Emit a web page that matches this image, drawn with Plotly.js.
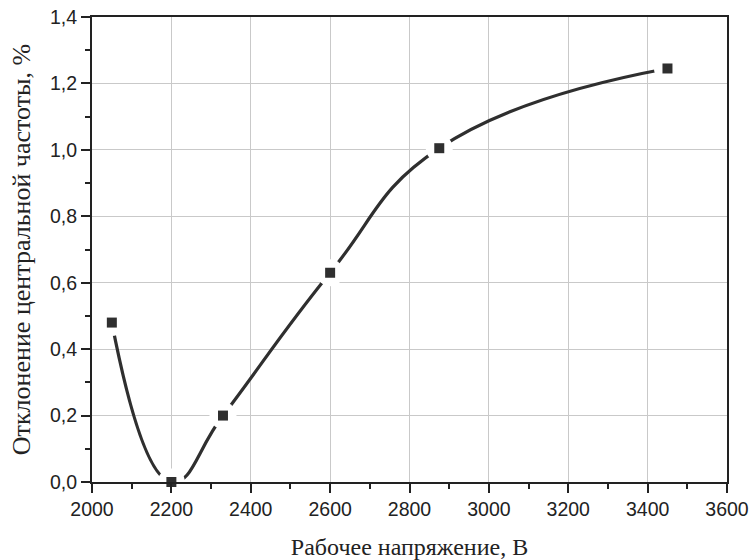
<!DOCTYPE html>
<html>
<head>
<meta charset="utf-8">
<script src="https://cdn.plot.ly/plotly-3.0.1.min.js"></script>
<style>html,body{margin:0;padding:0;background:#fff;}#chart{width:751px;height:560px;}</style>
</head>
<body>
<div id="chart"></div>
<script>
const voltage = [2050, 2200, 2330, 2600, 2875, 3450];
const deviation = [0.48, 0.0, 0.20, 0.63, 1.005, 1.245];
const xTickVals = [2000, 2200, 2400, 2600, 2800, 3000, 3200, 3400, 3600];
const yTickVals = [0.0, 0.2, 0.4, 0.6, 0.8, 1.0, 1.2, 1.4];
const yTickText = ["0,0", "0,2", "0,4", "0,6", "0,8", "1,0", "1,2", "1,4"];
const xTitle = "Рабочее напряжение, В";
const yTitle = "Отклонение центральной частоты, %";

const dark = "#2f2f2f";
const traces = [
  {x: voltage, y: deviation, type: "scatter", mode: "lines",
   line: {shape: "spline", smoothing: 1.3, color: dark, width: 3.2},
   cliponaxis: true, hoverinfo: "skip", showlegend: false},
  {x: voltage, y: deviation, type: "scatter", mode: "markers",
   marker: {symbol: "circle", size: 27, color: "#ffffff"},
   cliponaxis: true, hoverinfo: "skip", showlegend: false},
  {x: voltage, y: deviation, type: "scatter", mode: "markers",
   marker: {symbol: "square", size: 10, color: dark},
   cliponaxis: false, showlegend: false}
];

const tickFont = {family: "Liberation Sans, Arial, sans-serif", size: 19.5, color: "#222"};
const xTitleFont = {family: "Liberation Serif, Times New Roman, serif", size: 24, color: "#222"};
const yTitleFont = {family: "Liberation Serif, Times New Roman, serif", size: 26, color: "#222"};

const layout = {
  width: 751, height: 560,
  margin: {l: 92, r: 24, t: 17, b: 78},
  paper_bgcolor: "#fff", plot_bgcolor: "#fff",
  separators: ", ",
  xaxis: {
    range: [2000, 3600], tickmode: "array", tickvals: xTickVals,
    ticks: "outside", ticklen: 9, tickwidth: 2, tickcolor: "#222",
    minor: {dtick: 100, ticks: "outside", ticklen: 5, tickwidth: 2, tickcolor: "#222", showgrid: false},
    showline: true, linecolor: "#222", linewidth: 2, mirror: true,
    showgrid: true, gridcolor: "#c9c9c9", gridwidth: 1.2,
    zeroline: false, tickfont: tickFont,
    title: {text: xTitle, font: xTitleFont, standoff: 20}
  },
  yaxis: {
    range: [0, 1.4], tickmode: "array", tickvals: yTickVals, ticktext: yTickText,
    ticks: "outside", ticklen: 9, tickwidth: 2, tickcolor: "#222",
    minor: {dtick: 0.1, ticks: "outside", ticklen: 5, tickwidth: 2, tickcolor: "#222", showgrid: false},
    showline: true, linecolor: "#222", linewidth: 2, mirror: true,
    showgrid: true, gridcolor: "#c9c9c9", gridwidth: 1.2,
    zeroline: false, tickfont: tickFont,
    title: {text: yTitle, font: yTitleFont, standoff: 12}
  }
};

Plotly.newPlot("chart", traces, layout, {displayModeBar: false, staticPlot: true});
</script>
</body>
</html>
